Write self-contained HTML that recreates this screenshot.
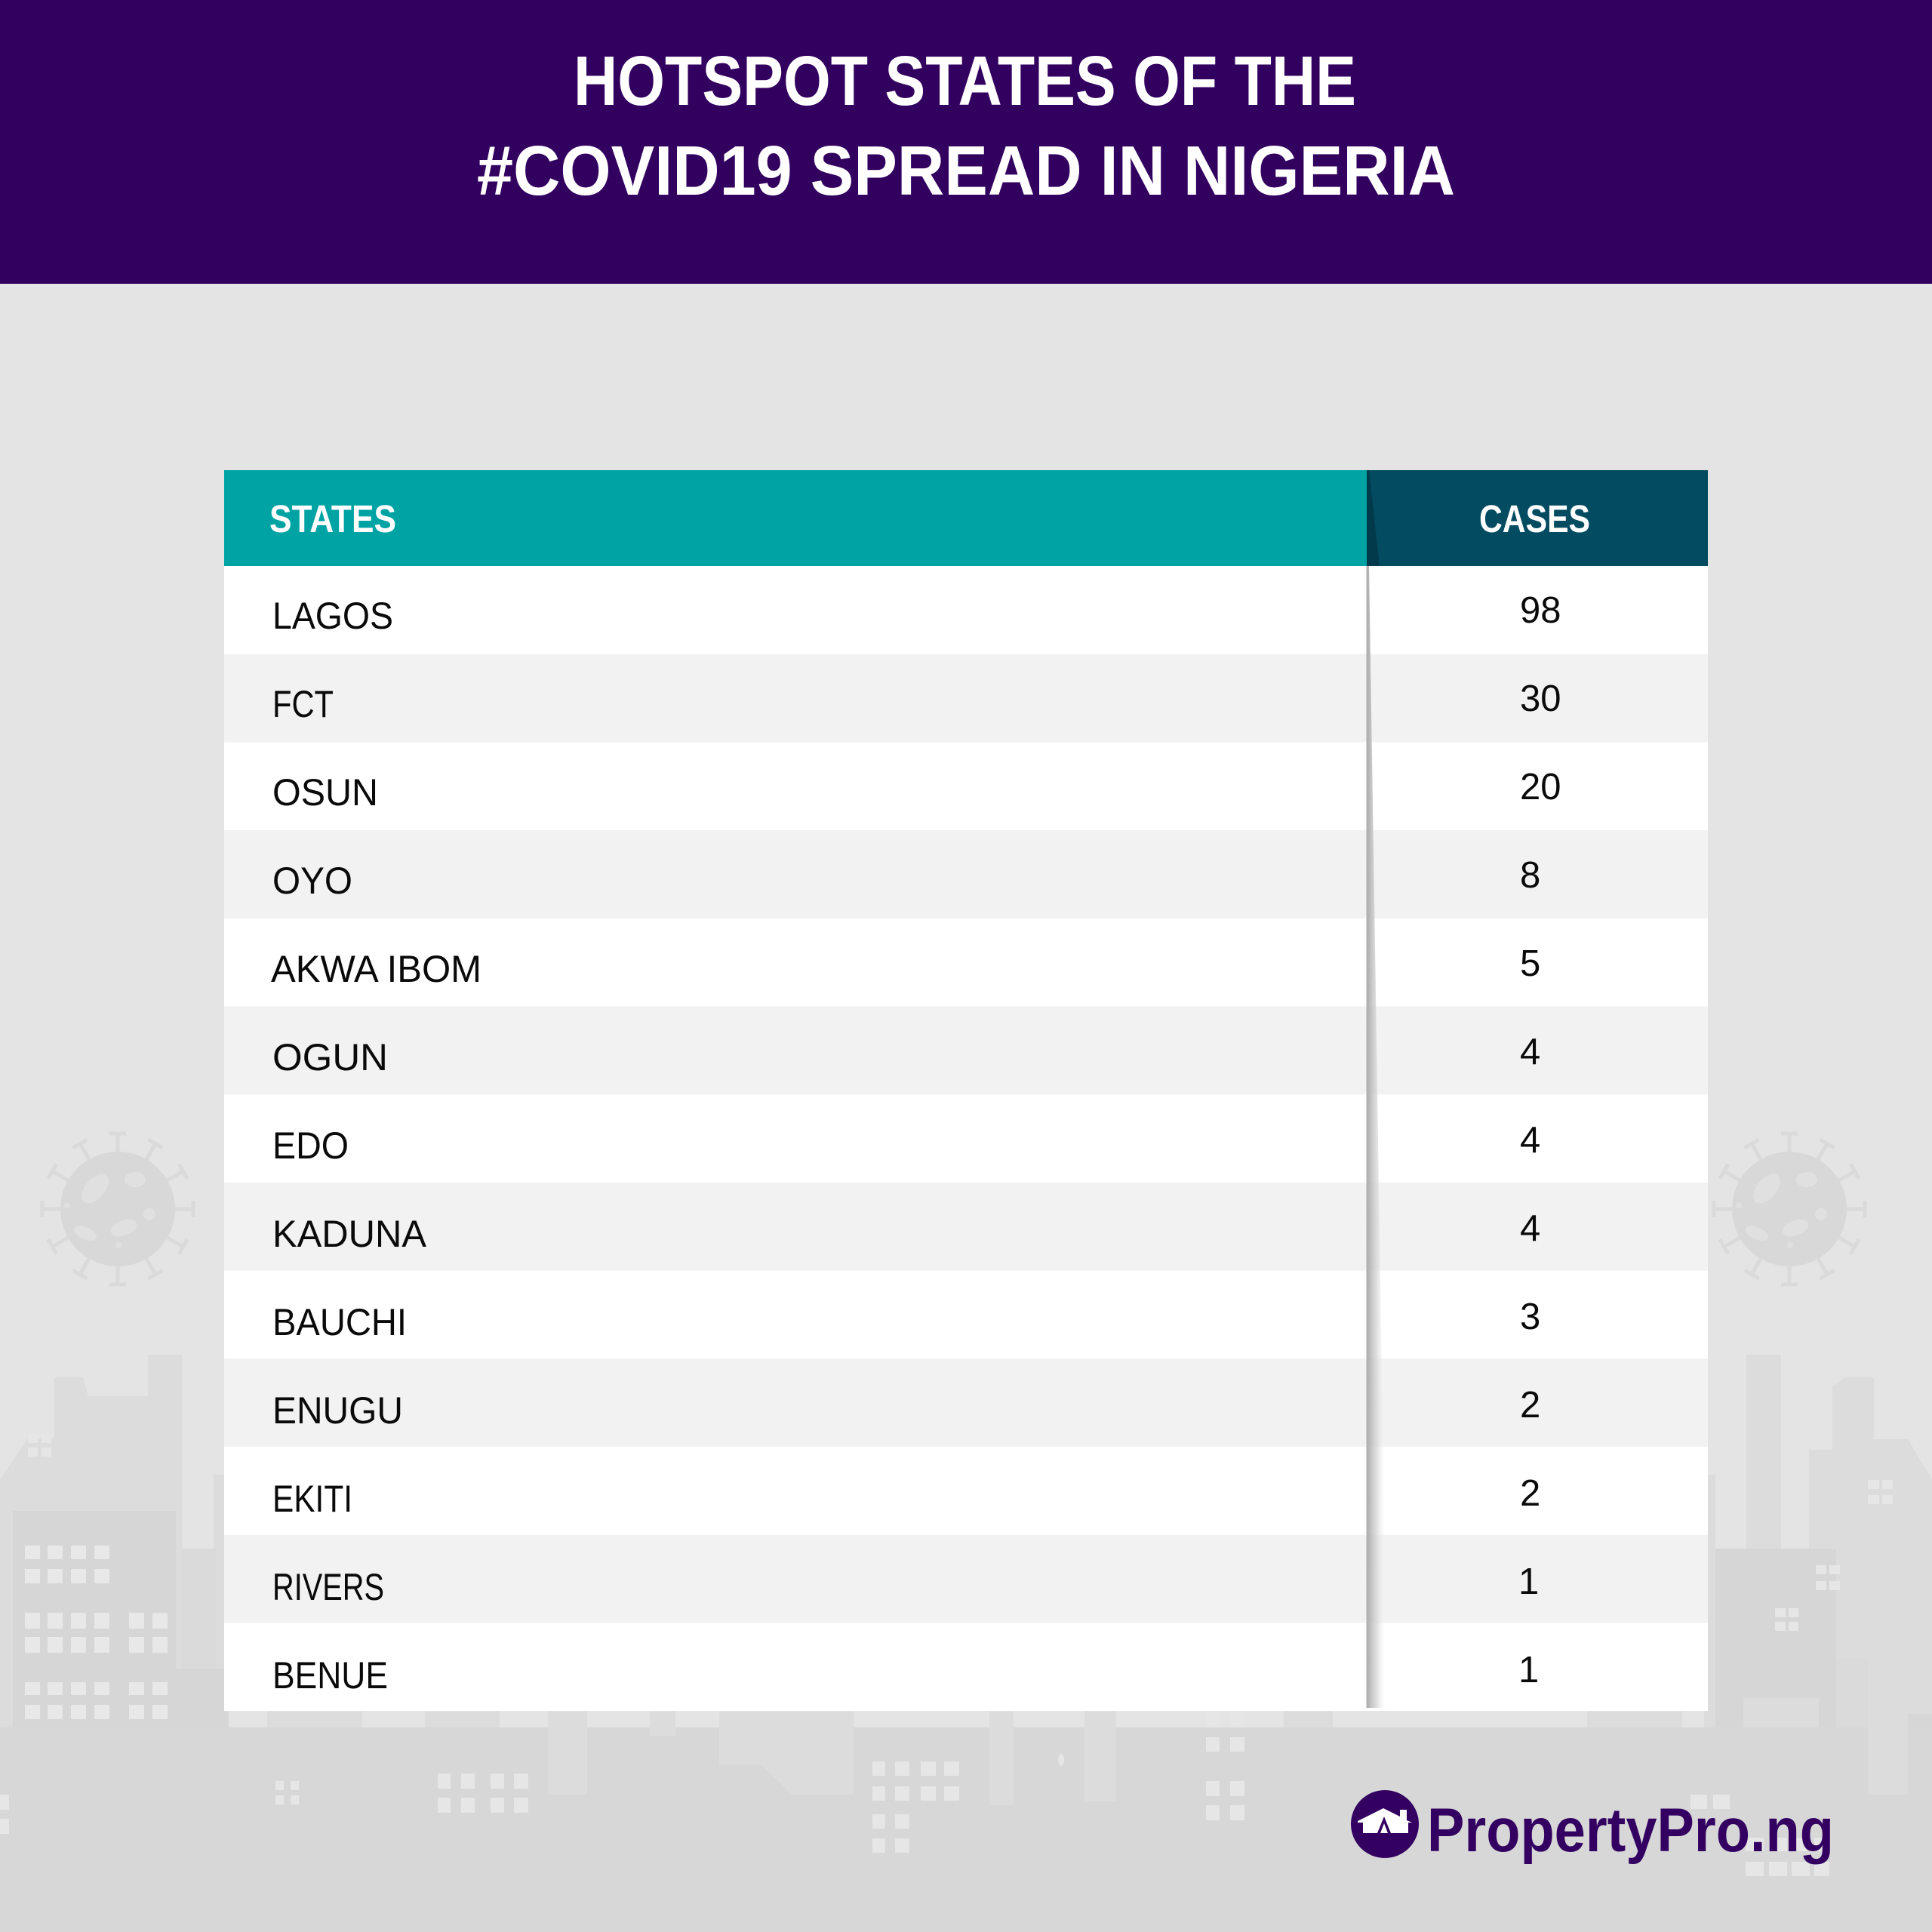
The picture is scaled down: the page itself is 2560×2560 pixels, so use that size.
<!DOCTYPE html>
<html>
<head>
<meta charset="utf-8">
<style>
  html,body{margin:0;padding:0;background:#e4e4e4;}
  svg{display:block;}
  text{font-family:"Liberation Sans", Arial, sans-serif;}
</style>
</head>
<body>
<svg xmlns="http://www.w3.org/2000/svg" width="2560" height="2560" viewBox="0 0 2560 2560">
  <defs>
    <linearGradient id="sh" x1="0" y1="0" x2="1" y2="0">
      <stop offset="0" stop-color="#a9a9a9"/>
      <stop offset="0.5" stop-color="#d4d4d4" stop-opacity="0.7"/>
      <stop offset="1" stop-color="#ffffff" stop-opacity="0"/>
    </linearGradient>
    <g id="virus">
      <g stroke="#dadada" stroke-width="5" fill="none">
        <g id="spk"><line x1="0" y1="-74" x2="0" y2="-100"/><line x1="-11" y1="-100" x2="11" y2="-100"/></g>
        <use href="#spk" transform="rotate(30)"/>
        <use href="#spk" transform="rotate(60)"/>
        <use href="#spk" transform="rotate(90)"/>
        <use href="#spk" transform="rotate(120)"/>
        <use href="#spk" transform="rotate(150)"/>
        <use href="#spk" transform="rotate(180)"/>
        <use href="#spk" transform="rotate(210)"/>
        <use href="#spk" transform="rotate(240)"/>
        <use href="#spk" transform="rotate(270)"/>
        <use href="#spk" transform="rotate(300)"/>
        <use href="#spk" transform="rotate(330)"/>
      </g>
      <circle r="76" fill="#d8d8d8"/>
      <g fill="#e0e0e0">
        <ellipse cx="-30" cy="-27" rx="23" ry="13" transform="rotate(-50 -30 -27)"/>
        <ellipse cx="23" cy="-39" rx="14" ry="10"/>
        <ellipse cx="8" cy="25" rx="18" ry="10" transform="rotate(-20 8 25)"/>
        <ellipse cx="-43" cy="32" rx="16" ry="8" transform="rotate(25 -43 32)"/>
        <circle cx="42" cy="7" r="8"/>
        <circle cx="-67" cy="-5" r="4"/>
        <circle cx="1" cy="48" r="4"/>
      </g>
    </g>
  </defs>

  <!-- background -->
  <rect x="0" y="0" width="2560" height="2560" fill="#e4e4e4"/>

  <!-- viruses -->
  <use href="#virus" transform="translate(156,1602)"/>
  <use href="#virus" transform="translate(2371,1602)"/>

  <!-- LEFT city: back buildings -->
  <g fill="#dcdcdc">
    <polygon points="0,1960 37,1906 72,1906 72,1825 110,1825 117,1850 196,1850 196,1795 241,1795 241,2300 0,2300"/>
    <rect x="283" y="1954" width="20" height="350"/>
  </g>
  <rect x="241" y="2052" width="45" height="250" fill="#dadada"/>
  <g fill="#e6e6e6">
    <rect x="37" y="1900" width="13" height="12"/><rect x="55" y="1900" width="13" height="12"/>
    <rect x="37" y="1918" width="13" height="12"/><rect x="55" y="1918" width="13" height="12"/>
  </g>
  <!-- LEFT front -->
  <g fill="#d6d6d6">
    <rect x="17" y="2002" width="216" height="300"/>
    <rect x="233" y="2211" width="70" height="90"/>
  </g>
  <g fill="#e8e8e8">
    <rect x="33" y="2048" width="20" height="18"/><rect x="63" y="2048" width="20" height="18"/><rect x="94" y="2048" width="20" height="18"/><rect x="125" y="2048" width="20" height="18"/>
    <rect x="33" y="2079" width="20" height="19"/><rect x="63" y="2079" width="20" height="19"/><rect x="94" y="2079" width="20" height="19"/><rect x="125" y="2079" width="20" height="19"/>
    <rect x="33" y="2137" width="20" height="21"/><rect x="63" y="2137" width="20" height="21"/><rect x="94" y="2137" width="20" height="21"/><rect x="125" y="2137" width="20" height="21"/><rect x="171" y="2137" width="20" height="21"/><rect x="202" y="2137" width="20" height="21"/>
    <rect x="33" y="2169" width="20" height="21"/><rect x="63" y="2169" width="20" height="21"/><rect x="94" y="2169" width="20" height="21"/><rect x="125" y="2169" width="20" height="21"/><rect x="171" y="2169" width="20" height="21"/><rect x="202" y="2169" width="20" height="21"/>
    <rect x="33" y="2229" width="20" height="17"/><rect x="63" y="2229" width="20" height="17"/><rect x="94" y="2229" width="20" height="17"/><rect x="125" y="2229" width="20" height="17"/><rect x="171" y="2229" width="20" height="17"/><rect x="202" y="2229" width="20" height="17"/>
    <rect x="33" y="2259" width="20" height="19"/><rect x="63" y="2259" width="20" height="19"/><rect x="94" y="2259" width="20" height="19"/><rect x="125" y="2259" width="20" height="19"/><rect x="171" y="2259" width="20" height="19"/><rect x="202" y="2259" width="20" height="19"/>
  </g>

  <!-- RIGHT city: back -->
  <g fill="#dcdcdc">
    <rect x="2314" y="1795" width="46" height="510"/>
    <polygon points="2428,1837 2445,1825 2483,1825 2483,1907 2528,1907 2560,1960 2560,2300 2397,2300 2397,1921 2428,1921"/>
    <rect x="2258" y="1954" width="15" height="350"/>
  </g>
  <g fill="#d6d6d6">
    <rect x="2273" y="2052" width="160" height="250"/>
    <rect x="2528" y="2271" width="32" height="40"/>
  </g>
  <rect x="2433" y="2197" width="42" height="105" fill="#dadada"/>
  <g fill="#e6e6e6">
    <rect x="2475" y="1961" width="15" height="12"/><rect x="2494" y="1961" width="14" height="12"/>
    <rect x="2475" y="1981" width="15" height="12"/><rect x="2494" y="1981" width="14" height="12"/>
    <rect x="2406" y="2074" width="14" height="12"/><rect x="2424" y="2074" width="14" height="12"/>
    <rect x="2406" y="2095" width="14" height="12"/><rect x="2424" y="2095" width="14" height="12"/>
    <rect x="2352" y="2131" width="14" height="12"/><rect x="2370" y="2131" width="13" height="12"/>
    <rect x="2352" y="2149" width="14" height="12"/><rect x="2370" y="2149" width="13" height="12"/>
  </g>

  <!-- ground -->
  <rect x="0" y="2289" width="2560" height="271" fill="#d7d7d7"/>
  <!-- hanging lighter shapes below table -->
  <g fill="#dcdcdc">
    <rect x="0" y="2260" width="17" height="29"/>
    <rect x="354" y="2260" width="126" height="29"/>
    <rect x="563" y="2260" width="99" height="29"/>
    <rect x="726" y="2260" width="52" height="118"/>
    <rect x="861" y="2260" width="34" height="40"/>
    <polygon points="953,2260 1131,2260 1131,2378 1050,2378 1008,2338 953,2338"/>
    <rect x="1311" y="2260" width="32" height="132"/>
    <rect x="1437" y="2260" width="42" height="127"/>
    <rect x="1701" y="2260" width="65" height="29"/>
    <rect x="2103" y="2260" width="126" height="29"/>
    <rect x="2310" y="2250" width="100" height="39"/>
    <rect x="2476" y="2250" width="52" height="128"/>
  </g>
  <g fill="#e6e6e6">
    <rect x="0" y="2378" width="12" height="20"/><rect x="0" y="2410" width="12" height="20"/>
    <rect x="365" y="2360" width="11" height="12"/><rect x="385" y="2360" width="11" height="12"/>
    <rect x="365" y="2379" width="11" height="12"/><rect x="385" y="2379" width="11" height="12"/>
    <rect x="580" y="2350" width="17" height="20"/><rect x="611" y="2350" width="18" height="20"/><rect x="650" y="2350" width="18" height="20"/><rect x="681" y="2350" width="19" height="20"/>
    <rect x="580" y="2382" width="17" height="20"/><rect x="611" y="2382" width="18" height="20"/><rect x="650" y="2382" width="18" height="20"/><rect x="681" y="2382" width="19" height="20"/>
    <rect x="1156" y="2334" width="17" height="19"/><rect x="1186" y="2334" width="19" height="19"/><rect x="1220" y="2334" width="20" height="19"/><rect x="1251" y="2334" width="20" height="19"/>
    <rect x="1156" y="2367" width="17" height="19"/><rect x="1186" y="2367" width="19" height="19"/><rect x="1220" y="2367" width="20" height="19"/><rect x="1251" y="2367" width="20" height="19"/>
    <rect x="1156" y="2404" width="17" height="19"/><rect x="1186" y="2404" width="19" height="19"/>
    <rect x="1156" y="2436" width="17" height="19"/><rect x="1186" y="2436" width="19" height="19"/>
    <ellipse cx="1406" cy="2332" rx="4" ry="8"/>
    <rect x="1598" y="2269" width="18" height="20"/><rect x="1630" y="2269" width="19" height="20"/>
    <rect x="1598" y="2302" width="18" height="19"/><rect x="1630" y="2302" width="19" height="19"/>
    <rect x="1598" y="2360" width="18" height="20"/><rect x="1630" y="2360" width="19" height="20"/>
    <rect x="1598" y="2392" width="18" height="20"/><rect x="1630" y="2392" width="19" height="20"/>
    <rect x="2240" y="2378" width="22" height="19"/><rect x="2270" y="2378" width="22" height="19"/>
    <rect x="2313" y="2435" width="24" height="18"/><rect x="2344" y="2435" width="24" height="18"/><rect x="2374" y="2435" width="24" height="18"/><rect x="2404" y="2435" width="20" height="18"/>
    <rect x="2313" y="2467" width="24" height="19"/><rect x="2344" y="2467" width="24" height="19"/><rect x="2374" y="2467" width="24" height="19"/><rect x="2404" y="2467" width="20" height="19"/>
  </g>

  <!-- header band -->
  <rect x="0" y="0" width="2560" height="376" fill="#32015f"/>
  <text x="760" y="139" font-size="93" font-weight="bold" fill="#ffffff" textLength="1037" lengthAdjust="spacingAndGlyphs">HOTSPOT STATES OF THE</text>
  <text x="632" y="258" font-size="93" font-weight="bold" fill="#ffffff" textLength="1296" lengthAdjust="spacingAndGlyphs">#COVID19 SPREAD IN NIGERIA</text>

  <!-- table header -->
  <rect x="297" y="623" width="1514" height="127" fill="#00a3a4"/>
  <rect x="1811" y="623" width="452" height="127" fill="#034b61"/>
  <polygon points="1811,623 1814,623 1828,750 1811,750" fill="#023a4c"/>
  <text x="357" y="705" font-size="51" font-weight="bold" fill="#ffffff" textLength="168" lengthAdjust="spacingAndGlyphs">STATES</text>
  <text x="1960" y="705" font-size="51" font-weight="bold" fill="#ffffff" textLength="147" lengthAdjust="spacingAndGlyphs">CASES</text>

  <!-- rows -->
  <g>
    <rect x="297" y="750" width="1966" height="117" fill="#ffffff"/>
    <rect x="297" y="866.7" width="1966" height="117" fill="#f2f2f2"/>
    <rect x="297" y="983.4" width="1966" height="117" fill="#ffffff"/>
    <rect x="297" y="1100.1" width="1966" height="117" fill="#f2f2f2"/>
    <rect x="297" y="1216.8" width="1966" height="117" fill="#ffffff"/>
    <rect x="297" y="1333.5" width="1966" height="117" fill="#f2f2f2"/>
    <rect x="297" y="1450.2" width="1966" height="117" fill="#ffffff"/>
    <rect x="297" y="1566.9" width="1966" height="117" fill="#f2f2f2"/>
    <rect x="297" y="1683.6" width="1966" height="117" fill="#ffffff"/>
    <rect x="297" y="1800.3" width="1966" height="117" fill="#f2f2f2"/>
    <rect x="297" y="1917" width="1966" height="117" fill="#ffffff"/>
    <rect x="297" y="2033.7" width="1966" height="117" fill="#f2f2f2"/>
    <rect x="297" y="2150.4" width="1966" height="116.7" fill="#ffffff"/>
  </g>

  <!-- divider shadow -->
  <polygon points="1811,750 1814,750 1838,2263 1811,2263" fill="url(#sh)"/>
  <line x1="1811.5" y1="750" x2="1811.5" y2="2263" stroke="#b0b0b0" stroke-width="2"/>

  <!-- state names -->
  <g font-size="50" fill="#0a0a0a">
    <text x="361" y="833" textLength="160" lengthAdjust="spacingAndGlyphs">LAGOS</text>
    <text x="361" y="950" textLength="81" lengthAdjust="spacingAndGlyphs">FCT</text>
    <text x="361" y="1067" textLength="140" lengthAdjust="spacingAndGlyphs">OSUN</text>
    <text x="361" y="1184" textLength="106" lengthAdjust="spacingAndGlyphs">OYO</text>
    <text x="359" y="1301" textLength="279" lengthAdjust="spacingAndGlyphs">AKWA IBOM</text>
    <text x="361" y="1418" textLength="153" lengthAdjust="spacingAndGlyphs">OGUN</text>
    <text x="361" y="1535" textLength="101" lengthAdjust="spacingAndGlyphs">EDO</text>
    <text x="361" y="1652" textLength="204" lengthAdjust="spacingAndGlyphs">KADUNA</text>
    <text x="361" y="1769" textLength="178" lengthAdjust="spacingAndGlyphs">BAUCHI</text>
    <text x="361" y="1886" textLength="173" lengthAdjust="spacingAndGlyphs">ENUGU</text>
    <text x="361" y="2003" textLength="106" lengthAdjust="spacingAndGlyphs">EKITI</text>
    <text x="361" y="2120" textLength="148" lengthAdjust="spacingAndGlyphs">RIVERS</text>
    <text x="361" y="2237" textLength="153" lengthAdjust="spacingAndGlyphs">BENUE</text>
  </g>

  <!-- case numbers -->
  <g font-size="49" fill="#0a0a0a">
    <text x="2014" y="825">98</text>
    <text x="2014" y="942">30</text>
    <text x="2014" y="1059">20</text>
    <text x="2014" y="1176">8</text>
    <text x="2014" y="1293">5</text>
    <text x="2014" y="1410">4</text>
    <text x="2014" y="1527">4</text>
    <text x="2014" y="1644">4</text>
    <text x="2014" y="1761">3</text>
    <text x="2014" y="1878">2</text>
    <text x="2014" y="1995">2</text>
    <text x="2012" y="2112">1</text>
    <text x="2012" y="2229">1</text>
  </g>

  <!-- logo -->
  <circle cx="1835" cy="2417" r="45" fill="#330062"/>
  <polygon points="1799,2413 1833,2396 1855,2407 1855,2398 1864,2398 1864,2412 1871,2415 1866,2415 1866,2429 1806,2429 1806,2415 1799,2415" fill="#ffffff"/>
  <polygon points="1825,2429 1834,2407 1843,2429 1839,2429 1834,2416 1829,2429" fill="#330062"/>
  <text x="1891" y="2453" font-size="82" font-weight="bold" fill="#330062" textLength="539" lengthAdjust="spacingAndGlyphs">PropertyPro.ng</text>
</svg>
</body>
</html>
